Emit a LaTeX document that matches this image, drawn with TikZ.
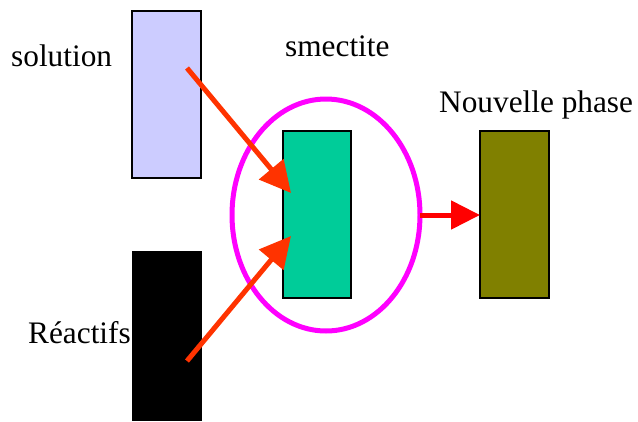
\documentclass[tikz,border=0pt]{standalone}
\usepackage{fontspec}
\setmainfont{Liberation Serif}
\usetikzlibrary{arrows.meta}
\definecolor{lav}{HTML}{CCCCFF}
\definecolor{teal2}{HTML}{00CC99}
\definecolor{olive2}{HTML}{808000}
\definecolor{orangered}{HTML}{FF3300}
\definecolor{magenta2}{HTML}{FF00FF}
\tikzset{
  box/.style={draw=black, line width=1.5pt},
  lbl/.style={font=\fontsize{31.3}{34}\selectfont, inner sep=0pt, anchor=base west},
  inarrow/.style={draw=orangered, line width=5pt, -{Triangle[length=31pt,width=31pt]}},
  outarrow/.style={draw=red, line width=5pt, -{Triangle[length=29pt,width=28pt]}}
}
\begin{document}
\begin{tikzpicture}[x=1pt,y=-1pt]
\useasboundingbox (0,0) rectangle (638,421);
% boxes
\filldraw[box, fill=lav] (132,11) rectangle (201,178);
\fill[black] (132,251) rectangle (202,421);
\filldraw[box, fill=teal2] (283,131) rectangle (351,298);
\filldraw[box, fill=olive2] (480,131) rectangle (549,298);
% ellipse
\draw[magenta2, line width=5pt] (326,215) ellipse [x radius=94, y radius=116];
% named coordinates
\coordinate (s1) at (187,68);
\coordinate (t1) at (291,193);
\coordinate (s2) at (187,361);
\coordinate (t2) at (291,236);
\coordinate (e3) at (420,215);
\coordinate (t3) at (480,215);
\draw[inarrow] (s1) -- (t1);
\draw[inarrow] (s2) -- (t2);
\draw[outarrow] (e3) -- (t3);
% labels
\node[lbl] (lsol) at (11,66) {solution};
\node[lbl] (lsme) at (285,56) {smectite};
\node[lbl] (lnou) at (439,112) {Nouvelle phase};
\node[lbl] (lrea) at (28,343) {Réactifs};
\end{tikzpicture}
\end{document}
